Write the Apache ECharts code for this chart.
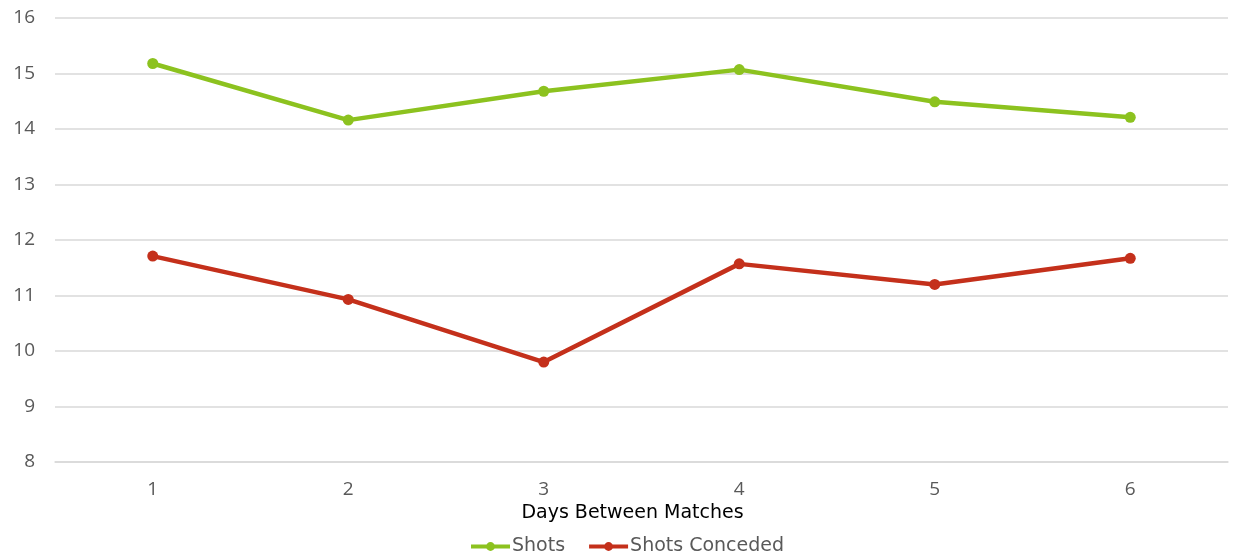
<!DOCTYPE html>
<html>
<head>
<meta charset="utf-8">
<script src="https://cdn.jsdelivr.net/npm/echarts@6/dist/echarts.min.js"></script>
<style>
  html, body { margin: 0; padding: 0; background: #fff; }
  #chart { width: 1236px; height: 558px; }
</style>
</head>
<body>
<div id="chart"></div>
<script>
// Average shots per game grouped by rest days between matches
const days = ['1', '2', '3', '4', '5', '6'];
const shots = [15.18, 14.16, 14.68, 15.07, 14.49, 14.21];
const shotsConceded = [11.71, 10.93, 9.80, 11.57, 11.20, 11.67];
const yTicks = { min: 8, max: 16, step: 1 };

const GREEN = '#8cc21f';
const RED = '#c4301b';
const LABEL_FONT = 'Open Sans';
const TITLE_FONT = 'DejaVu Sans';

function lineSeries(name, data, color) {
  return {
    name: name,
    type: 'line',
    data: data,
    symbol: 'circle',
    symbolSize: 11,
    lineStyle: { width: 4.5, color: color },
    itemStyle: { color: color },
    emphasis: { disabled: true }
  };
}

const chart = echarts.init(document.getElementById('chart'));
chart.setOption({
  animation: false,
  grid: { left: 55, right: 8, top: 18, bottom: 96, containLabel: false },
  legend: {
    top: 532,
    left: 464,
    itemWidth: 39,
    itemHeight: 11,
    itemGap: 22,
    lineStyle: { width: 4 },
    textStyle: { fontFamily: TITLE_FONT, fontSize: 19, color: '#595959', padding: [0, 0, 0, -3] },
    data: ['Shots', 'Shots Conceded']
  },
  xAxis: {
    type: 'category',
    data: days,
    boundaryGap: true,
    name: 'Days Between Matches',
    nameLocation: 'middle',
    nameGap: 41,
    nameTextStyle: { fontFamily: TITLE_FONT, fontSize: 19, color: '#000', padding: [0, 18, 0, 0] },
    axisLine: { show: true, lineStyle: { color: '#d9d9d9', width: 1.5 } },
    axisTick: { show: false },
    axisLabel: { margin: 18, fontFamily: LABEL_FONT, fontSize: 19, color: '#595959' }
  },
  yAxis: {
    type: 'value',
    min: yTicks.min,
    max: yTicks.max,
    interval: yTicks.step,
    axisLine: { show: false },
    axisTick: { show: false },
    axisLabel: { margin: 20, fontFamily: LABEL_FONT, fontSize: 19, color: '#595959' },
    splitLine: { lineStyle: { color: '#d9d9d9', width: 1.5 } }
  },
  series: [
    lineSeries('Shots', shots, GREEN),
    lineSeries('Shots Conceded', shotsConceded, RED)
  ]
});
</script>
</body>
</html>
